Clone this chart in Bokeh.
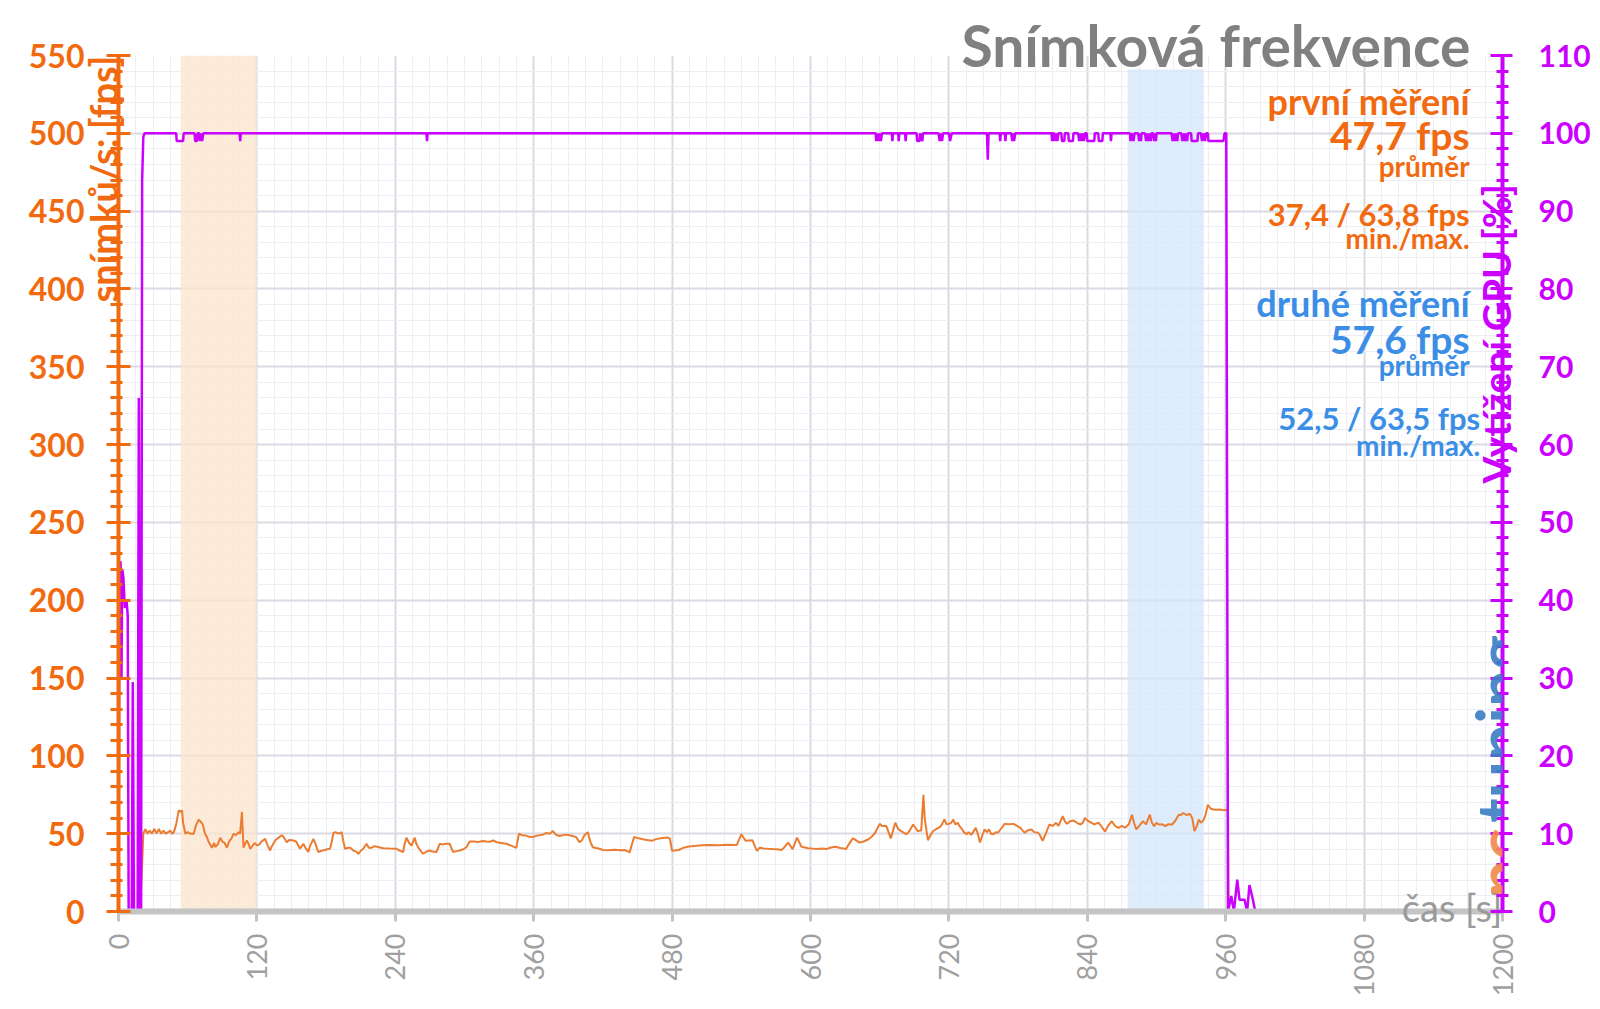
import math
from bokeh.plotting import figure
from bokeh.models import Range1d, LinearAxis, FixedTicker, Label
from bokeh.embed import file_html
from bokeh.resources import INLINE

# ---------------- data ----------------
fps_time = [0, 18, 19, 20.5, 21.5, 23.4, 25, 27, 29, 31, 33, 35, 37, 39, 41, 43, 45, 46.4, 48, 50,
            52.2, 54, 55.1, 56, 58, 60, 62, 65.2, 67, 69.5, 71, 73, 75, 76.7, 78, 81, 83, 83.9, 86, 88.2,
            90, 92, 94, 96, 98, 99.8, 102, 104.1, 105.5, 107, 108.4, 110, 111.3, 113, 114.2, 116, 118, 120,
            122, 124, 127.2, 129, 131.5, 133, 135.8, 138, 141.6, 143, 145.9, 148, 151.7, 154, 157.4, 159,
            160.3, 162, 164.6, 166, 169, 171, 173.3, 176, 179, 181, 183.4, 185, 186.3, 188, 191, 193.5, 195,
            196.4, 199, 201, 203.6, 206, 207.9, 210, 212.2, 215.1, 217, 219.4, 222, 225, 229.5, 235, 241.1,
            244, 246.8, 248, 249.7, 252, 254, 256.9, 258, 259.8, 262, 264.1, 267, 269.9, 272, 275.7, 278.5,
            281, 284, 287.2, 288.5, 290.1, 293, 295.8, 299, 301.6, 304.5, 308, 312, 316, 318.9, 322, 324.7,
            328, 332, 336.2, 340, 344.9, 347.2, 350, 353.5, 356, 359.3, 362, 365, 367.9, 371, 374, 376.6,
            379, 382.4, 385, 388.1, 391, 394, 396.8, 399.7, 402, 404, 406.9, 409, 411.2, 414, 417, 420, 425,
            430, 435, 439.3, 443.2, 447, 451, 454.8, 458, 462.5, 466, 470.3, 476.1, 478, 480, 485.8, 490,
            493.5, 497, 501.2, 506, 512.9, 520, 528, 536.1, 540, 543.8, 549.6, 553.5, 556, 559.3, 563, 567.1,
            571, 574.8, 577, 580.6, 584.5, 588.3, 592.2, 598, 602, 605.8, 610, 613.5, 617, 621.2, 626, 630.9,
            633, 636.7, 639, 642.5, 646, 650.3, 653, 656.1, 660, 662, 665.8, 669.6, 673.5, 676, 679.3, 683.2,
            686, 689, 692.9, 696, 697.9, 699, 701.8, 704, 706.4, 709, 712.2, 714, 716.1, 718, 720, 722, 723.8,
            725.5, 727.7, 729, 731.6, 733, 735.4, 737, 739.3, 741, 743.2, 745, 747, 749, 750.9, 753, 754.8,
            756.5, 758.7, 760.5, 762.5, 765, 768.3, 772, 776.1, 779, 781.9, 784, 785.8, 788, 791.6, 794, 797.4,
            799, 801.3, 804, 807.1, 810, 812.9, 815, 818.7, 820.5, 822.5, 825, 828.3, 831, 834.1, 836, 838,
            841, 843.8, 846, 849.6, 852, 855.4, 858, 861.2, 864, 867.1, 870, 872.9, 876, 878.7, 880.5, 882.5,
            885, 888.3, 891, 894.2, 896, 898, 900, 901.9, 905, 907.7, 910, 913.5, 916, 919.3, 921, 923.2, 926,
            929, 931, 932.9, 935, 936.7, 938.5, 940.6, 942.5, 944.5, 947, 950.3, 955, 958, 961.9, 962.6, 985]
fps_value = [0, 0, 6, 30, 50, 53, 50, 52, 50, 53, 50, 53, 50, 52, 50, 51, 52, 50, 51, 56,
             65, 64, 65, 57, 50, 51, 50, 50, 55, 59, 58, 56, 50, 47.8, 45, 41, 44, 41.5, 43, 47.4,
             45, 44, 41, 45, 47, 50, 49, 51, 50, 64, 41, 44, 45.6, 43, 40.3, 42, 44, 42.5,
             43, 45, 46.7, 43, 39.2, 42, 45.6, 47, 49, 48, 44.5, 46, 45.6, 45, 40.3, 42,
             43.5, 41, 38.2, 42, 46.7, 43, 38.2, 39, 39.5, 40, 40.3, 45, 50.5, 51, 50, 51, 45,
             40.3, 41, 41, 39.2, 38.5, 37.1, 39, 40.3, 43.5, 41, 40.9, 42, 41.5, 40.7, 40.5, 40.3,
             39, 38.2, 43, 47.4, 44, 42.4, 47.4, 44, 41.3, 39, 37.1, 38.5, 39.2, 38.5, 38.2, 43.5,
             43, 43.5, 43.5, 41, 38.2, 38.8, 39.2, 40, 41.3, 45, 45, 44.6, 45.3, 45, 44.8, 45.6,
             44.5, 44, 43.5, 42.5, 40.9, 50, 49, 48.8, 48, 47.8, 48.6, 49, 49.4, 50.5, 50, 51.7,
             49.5, 48.5, 49, 49.4, 49, 48.5, 47.8, 44.5, 46, 49, 51, 45, 41.3, 40.8, 40.3, 39.5, 39.3,
             39.6, 39.4, 39.5, 38, 47.9, 47, 46.4, 46, 45.4, 46.5, 47, 47.5, 47, 39, 39.5, 41,
             41.6, 42, 42.2, 42.5, 42.8, 42.6, 42.9, 42.8, 49.6, 45.4, 45.8, 39, 41, 40.5, 40.3, 40.1,
             40, 39.5, 41, 44.3, 40.1, 47.5, 41.6, 40.7, 40.4, 40.1, 40.5, 40.1, 41, 41.6, 40.8, 40.1,
             43, 47, 46, 44.3, 45, 46.4, 48, 50.6, 56.3, 55, 54.9, 47, 57, 53, 51.3, 49.6,
             52, 55.9, 51.7, 52, 74.9, 60, 45.8, 49, 51.7, 53, 54.2, 56, 59.1, 56, 56.3, 57, 59.1,
             56, 57, 55, 52.7, 51, 49.6, 51, 49.2, 51, 53.8, 50, 44.3, 49, 52.7, 51, 52.7,
             50, 49.6, 51, 50.6, 53, 56.3, 56, 56.3, 55, 53.8, 52, 50.6, 52, 52.7, 51, 50.6,
             49, 45.4, 50, 55.9, 55, 57, 55, 61.2, 58, 56.3, 58, 58.4, 57, 55.9, 57, 60.1,
             58, 57, 56, 57, 55, 51.3, 55, 58, 55, 53.8, 55, 53.8, 56, 62.2, 57, 52.7,
             55, 58, 56, 62.2, 57, 54.9, 57, 55.9, 56, 54.9, 56, 55.9, 58, 62.2, 62, 63.3, 62,
             62.7, 60, 51.7, 55, 59.1, 57, 58.4, 62, 68.6, 66, 65.4, 65.5, 65, 65.4, 0, 0]

gpu_time = [0, 0.8, 1.8, 2.6, 3.2, 4.2, 5.5, 7.0, 8.0, 8.8, 11.5, 12.4, 13.4, 16.6, 17.6, 18.8, 19.6,
            20.5, 21.5, 22.5,
            50, 50.5, 56, 56.5,
            66, 66.5, 68, 68.5, 70, 70.5, 71.5, 72.5, 73.5,
            105, 105.5, 106,
            267, 267.5, 268,
            656.5, 657, 658, 659, 660, 661, 662,
            670.5, 671, 671.5,
            676, 676.5, 677,
            682, 682.5, 683,
            692, 692.5, 694.5, 695, 697, 697.5,
            711, 712, 713, 714, 715,
            720, 721, 722.5,
            753, 753.7, 754.4,
            764, 764.5, 765,
            768.5, 769, 769.5,
            774, 775, 775.5, 776.5, 777.5,
            809, 809.5, 810,
            811, 811.5, 813, 814, 815,
            817.5, 818, 820, 820.5,
            823.5, 824, 827.5, 828,
            832, 833, 834, 835, 836, 837, 838,
            839.5, 840, 846, 846.5,
            849.5, 850, 853, 853.5,
            860, 860.5, 861,
            877, 877.5, 879, 880, 881,
            884, 885, 886, 886.5, 887,
            890, 891, 892, 893, 894, 895, 895.6,
            897, 898, 899, 899.5, 900,
            913, 914, 915, 916, 917, 918, 918.7,
            921.5, 922.5, 923.5, 924.5, 925.5, 926.5, 927.3,
            930, 930.5, 935.5, 936,
            938.5, 939.5, 941, 942, 943,
            944.6, 945, 958, 959, 960.5,
            962, 964.8, 967.1, 970, 972, 976.4, 978.6, 980.6, 983.6, 985.6, 1058]
gpu_value = [0, 44, 45, 30, 44, 43, 39, 40, 38, 0, 0, 29.5, 0, 0, 66, 0, 0,
             94, 99.5, 100,
             100, 99, 99, 100,
             100, 99, 99, 100, 100, 99, 100, 99, 100,
             100, 99, 100,
             100, 99, 100,
             100, 99, 100, 99, 100, 99, 100,
             100, 99, 100,
             100, 99, 100,
             100, 99, 100,
             100, 99, 99, 100, 99, 100,
             100, 99, 100, 99, 100,
             100, 99, 100,
             100, 96.6, 100,
             100, 99, 100,
             100, 99, 100,
             100, 99, 100, 99, 100,
             100, 99, 100,
             100, 99, 100, 99, 100,
             100, 99, 99, 100,
             100, 99, 99, 100,
             100, 99, 100, 99, 100, 99, 100,
             100, 99, 99, 100,
             100, 99, 99, 100,
             100, 99, 100,
             100, 99, 100, 99, 100,
             100, 99, 100, 99, 100,
             100, 99, 100, 99, 100, 99, 100,
             100, 99, 100, 99, 100,
             100, 99, 100, 99, 100, 99, 100,
             100, 99, 100, 99, 100, 99, 100,
             100, 99, 99, 100,
             100, 99, 100, 99, 100,
             100, 99, 99, 100, 100,
             0, 2, 0, 4.1, 1.5, 1.5, 0, 3.4, 1.5, 0, 0]

band_start = [54, 875]
band_end = [120, 941]
band_top = [550, 541]
band_colors = ["#FCE4CE", "#D3E6FA"]

x_ticks = [0, 120, 240, 360, 480, 600, 720, 840, 960, 1080, 1200]
x_minor = list(range(0, 1201, 15))
fps_ticks = [0, 50, 100, 150, 200, 250, 300, 350, 400, 450, 500, 550]
fps_minor = list(range(0, 551, 10))
gpu_ticks = [0, 10, 20, 30, 40, 50, 60, 70, 80, 90, 100, 110]
gpu_minor = list(range(0, 111, 2))

ORANGE = "#F26A10"
ORANGE_LINE = "#EB7D32"
MAGENTA = "#CC00FF"
BLUE = "#3A8EE6"
GRAY = "#808080"
FONT = "Lato"


def try_set(obj, **kw):
    for k, v in kw.items():
        try:
            setattr(obj, k, v)
        except Exception:
            pass


p = figure(width=1600, height=1009, x_range=Range1d(0, 1200), y_range=Range1d(0, 550),
           output_backend="svg", toolbar_location=None,
           min_border_left=118, min_border_right=98, min_border_top=55, min_border_bottom=98)
p.extra_y_ranges = {"gpu": Range1d(0, 110)}
p.outline_line_color = None
p.background_fill_color = "white"
p.border_fill_color = "white"

# title (negative standoff keeps the top border at its size)
p.title.text = "Snímková frekvence"
p.title.align = "right"
p.title.text_font = FONT
p.title.text_font_size = "57px"
p.title.text_font_style = "bold"
p.title.text_color = GRAY
p.title.standoff = -46
p.title.offset = 32

# grids
p.xgrid.ticker = FixedTicker(ticks=x_ticks, minor_ticks=x_minor)
p.ygrid.ticker = FixedTicker(ticks=fps_ticks, minor_ticks=fps_minor)
for g in (p.xgrid, p.ygrid):
    g.grid_line_color = "#D9DAE3"
    g.grid_line_width = 2
    g.minor_grid_line_color = "#EDEEF4"
    g.minor_grid_line_width = 1

# x axis
xa = p.xaxis[0]
xa.ticker = FixedTicker(ticks=x_ticks)
xa.axis_line_color = "#C4C4C4"
xa.axis_line_width = 6
xa.major_tick_line_color = "#C4C4C4"
xa.major_tick_line_width = 3
xa.major_tick_in = 0
xa.major_tick_out = 10
xa.minor_tick_line_color = None
xa.major_label_orientation = math.pi / 2
xa.major_label_text_font = FONT
xa.major_label_text_font_size = "27px"
xa.major_label_text_color = "#A0A0A0"
xa.major_label_standoff = 12

# left axis
ya = p.yaxis[0]
ya.ticker = FixedTicker(ticks=fps_ticks, minor_ticks=fps_minor)
ya.axis_line_color = ORANGE
ya.axis_line_width = 4
ya.major_tick_line_color = ORANGE
ya.major_tick_line_width = 3
ya.major_tick_in = 12
ya.major_tick_out = 12
ya.minor_tick_line_color = ORANGE
ya.minor_tick_line_width = 3
ya.minor_tick_in = 4
ya.minor_tick_out = 8
ya.major_label_text_font = FONT
ya.major_label_text_font_size = "32px"
ya.major_label_text_font_style = "bold"
ya.major_label_text_color = ORANGE
ya.major_label_standoff = 22

# right axis
ra = LinearAxis(y_range_name="gpu", ticker=FixedTicker(ticks=gpu_ticks, minor_ticks=gpu_minor))
ra.axis_line_color = MAGENTA
ra.axis_line_width = 4
ra.major_tick_line_color = MAGENTA
ra.major_tick_line_width = 3
ra.major_tick_in = 12
ra.major_tick_out = 10
ra.minor_tick_line_color = MAGENTA
ra.minor_tick_line_width = 3
ra.minor_tick_in = 6
ra.minor_tick_out = 6
ra.major_label_text_font = FONT
ra.major_label_text_font_size = "30px"
ra.major_label_text_font_style = "bold"
ra.major_label_text_color = MAGENTA
ra.major_label_standoff = 26
p.add_layout(ra, "right")


# tick-less axes that only carry the axis titles; a negative standoff pulls the
# title onto the main axis line without growing the border
def title_axis(text, size, color, bold, standoff, place, y_range_name=None,
               orientation=None, label_align=None):
    kw = dict(ticker=FixedTicker(ticks=[]))
    if y_range_name:
        kw["y_range_name"] = y_range_name
    ax = LinearAxis(**kw)
    ax.axis_line_color = None
    ax.major_tick_line_color = None
    ax.minor_tick_line_color = None
    ax.major_tick_out = 0
    ax.major_tick_in = 0
    ax.minor_tick_out = 0
    ax.minor_tick_in = 0
    ax.major_label_standoff = 0
    ax.axis_label = text
    ax.axis_label_text_font = FONT
    ax.axis_label_text_font_size = size
    ax.axis_label_text_font_style = "bold" if bold else "normal"
    ax.axis_label_text_color = color
    ax.axis_label_standoff = standoff
    if orientation is not None:
        ax.axis_label_orientation = orientation
    if label_align is not None:
        try_set(ax, axis_label_align=label_align)
    try_set(ax, axis_label_background_fill_color="white")
    p.add_layout(ax, place)


title_axis("snímků/s: [fps]", "38px", ORANGE, True, -77, "left",
           orientation=math.pi / 2, label_align="end")
title_axis("Vytížení GPU [%]", "39px", MAGENTA, True, -98, "right",
           y_range_name="gpu", orientation=math.pi / 2)
title_axis("čas [s]", "38px", "#9A9A9A", False, -93, "below",
           orientation=0.0001, label_align="end")

# bands
p.quad(left=band_start, right=band_end, bottom=0, top=band_top, fill_color=band_colors,
       fill_alpha=0.75, line_color=None)

# lines
p.line(fps_time, fps_value, line_color=ORANGE_LINE, line_width=2)
p.line(gpu_time, gpu_value, y_range_name="gpu", line_color=MAGENTA, line_width=2.5)


def lab(x, y, text, size, color, align="right", bold=True, angle=0.0,
        baseline="middle", alpha=1.0):
    p.add_layout(Label(x=x, y=y, text=text, text_font=FONT, text_font_size=size,
                       text_font_style="bold" if bold else "normal", text_color=color,
                       text_align=align, text_baseline=baseline, angle=angle,
                       text_alpha=alpha))


# first measurement
lab(1171.5, 521, "první měření", "36px", ORANGE)
lab(1171.5, 499, "47,7 fps", "39px", ORANGE)
lab(1171.5, 479, "průměr", "28px", ORANGE)
lab(1171.5, 448, "37,4 / 63,8 fps", "31px", ORANGE)
lab(1171.5, 432.5, "min./max.", "28px", ORANGE)
# second measurement
lab(1171.5, 390.7, "druhé měření", "36px", BLUE)
lab(1171.5, 368, "57,6 fps", "39px", BLUE)
lab(1171.5, 351, "průměr", "28px", BLUE)
lab(1180.6, 316.8, "52,5 / 63,5 fps", "31px", BLUE)
lab(1180.6, 300, "min./max.", "28px", BLUE)

# watermark (inside the frame)
lab(1197, 9, "pc", "66px", "#F08A4B", align="left", angle=math.pi / 2,
    baseline="alphabetic", alpha=0.9)
lab(1197, 57, "tuning", "66px", "#3B7DC4", align="left", angle=math.pi / 2,
    baseline="alphabetic", alpha=0.9)

open("out.html", "w").write(file_html(p, INLINE))
